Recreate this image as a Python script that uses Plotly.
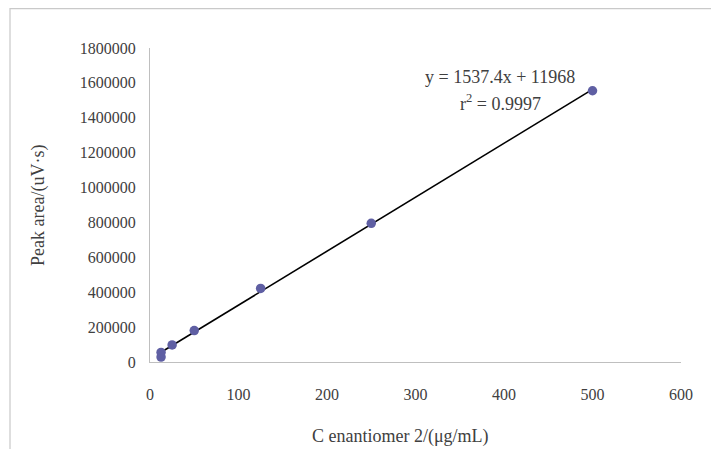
import numpy as np
import plotly.graph_objects as go

# Data
conc = [12.5, 12.5, 25, 50, 125, 250, 500]
area = [28000, 55000, 98000, 180000, 422000, 795000, 1555000]

x_ticks = [0, 100, 200, 300, 400, 500, 600]
y_ticks = [0, 200000, 400000, 600000, 800000, 1000000, 1200000, 1400000, 1600000, 1800000]

eq_text = "y = 1537.4x + 11968"
r2_text = "r<sup>2</sup> = 0.9997"
x_title = "C enantiomer 2/(μg/mL)"
y_title = "Peak area/(uV·s)"

# Linear trendline (least squares on the plotted points)
slope, intercept = np.polyfit(conc, area, 1)
fit_x = [min(conc), max(conc)]
fit_y = [slope * v + intercept for v in fit_x]

FONT = "Liberation Serif"
TXT = "#404040"

# the page body adds an 8px margin, so the figure is drawn 8px smaller
W, H = 711, 441
L, R, T, B = 142, 38, 40, 87
PW, PH = W - L - R, H - T - B


def px(x):
    return (x - L) / PW


def py(y):
    return (H - B - y) / PH


fig = go.Figure()
fig.add_trace(go.Scatter(x=fit_x, y=fit_y, mode="lines",
                         line=dict(color="black", width=1.6),
                         hoverinfo="skip", showlegend=False))
fig.add_trace(go.Scatter(x=conc, y=area, mode="markers",
                         marker=dict(color="#5f5fa3", size=9.5, line=dict(width=0)),
                         showlegend=False))

fig.update_layout(
    width=W, height=H,
    margin=dict(l=L, r=R, t=T, b=B),
    paper_bgcolor="white", plot_bgcolor="white",
    font=dict(family=FONT, size=16, color=TXT),
    xaxis=dict(range=[0, 600], tickvals=x_ticks, ticktext=[str(v) for v in x_ticks],
               showgrid=False, zeroline=False, showline=True, linecolor="#bfbfbf", linewidth=1,
               ticks="outside", ticklen=18, tickcolor="rgba(0,0,0,0)",
               tickfont=dict(family=FONT, size=16, color=TXT)),
    yaxis=dict(range=[0, 1800000], tickvals=y_ticks, ticktext=[str(v) for v in y_ticks],
               showgrid=False, zeroline=False, showline=True, linecolor="#bfbfbf", linewidth=1,
               ticks="outside", ticklen=10, tickcolor="rgba(0,0,0,0)",
               tickfont=dict(family=FONT, size=16, color=TXT)),
    shapes=[dict(type="rect", xref="paper", yref="paper",
                 x0=px(2), y0=-2, x1=3, y1=py(0.6),
                 line=dict(color="#c9c9c9", width=1.2), fillcolor="rgba(0,0,0,0)", layer="below")],
    annotations=[
        dict(text=eq_text, xref="paper", yref="paper", x=px(492), y=py(69),
             showarrow=False, xanchor="center", yanchor="middle",
             font=dict(family=FONT, size=18, color=TXT)),
        dict(text=r2_text, xref="paper", yref="paper", x=px(492), y=py(95),
             showarrow=False, xanchor="center", yanchor="middle",
             font=dict(family=FONT, size=18, color=TXT)),
        dict(text=x_title, xref="paper", yref="paper", x=px(392), y=py(428),
             showarrow=False, xanchor="center", yanchor="middle",
             font=dict(family=FONT, size=18, color=TXT)),
        dict(text=y_title, xref="paper", yref="paper", x=px(30), y=py(198),
             showarrow=False, xanchor="center", yanchor="middle", textangle=-90,
             font=dict(family=FONT, size=18, color=TXT)),
    ],
)

fig.write_html("out.html")
